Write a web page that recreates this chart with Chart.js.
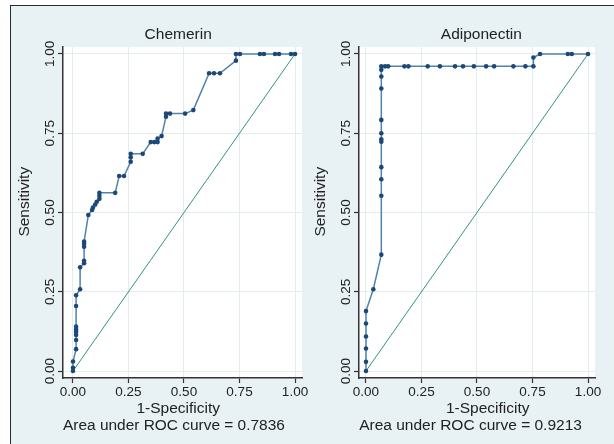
<!DOCTYPE html>
<html>
<head>
<meta charset="utf-8">
<script src="https://cdn.jsdelivr.net/npm/chart.js@4/dist/chart.umd.min.js"></script>
<style>
  body { margin: 0; background: #fff; }
  #page { position: relative; width: 614px; height: 444px; overflow: hidden; background: #fff; }
  #frame { position: absolute; left: 10px; top: 5px; right: 0; bottom: 0;
           background: #e8f1f3; border-left: 1.5px solid #2b2b2b; border-top: 1.5px solid #2b2b2b; }
  canvas { position: absolute; }
  #chemerin { left: 11px; top: 6px; }
  #adipo { left: 311px; top: 6px; }
</style>
</head>
<body>
<div id="page">
  <div id="frame"></div>
  <canvas id="chemerin" width="300" height="438"></canvas>
  <canvas id="adipo" width="303" height="438"></canvas>
</div>
<script>
// ROC points: 1-specificity (x) and sensitivity (y)
const chemFpr = [0, 0, 0, 0.014, 0.014, 0.014, 0.014, 0.014, 0.014, 0.014, 0.014, 0.032, 0.032,
    0.05, 0.05, 0.05, 0.05, 0.05, 0.069, 0.086, 0.09, 0.10, 0.107, 0.119, 0.119, 0.119, 0.19,
    0.208, 0.23, 0.26, 0.26, 0.26, 0.314, 0.35, 0.366, 0.381, 0.381, 0.399, 0.419, 0.419, 0.437,
    0.505, 0.542, 0.613, 0.635, 0.662, 0.734, 0.734, 0.752, 0.842, 0.86, 0.91, 0.928, 0.982, 1];
const chemTpr = [0, 0.01, 0.03, 0.069, 0.098, 0.114, 0.124, 0.131, 0.14, 0.205, 0.239, 0.258, 0.327,
    0.34, 0.348, 0.392, 0.401, 0.408, 0.492, 0.508, 0.516, 0.525, 0.534, 0.543, 0.553, 0.562, 0.562,
    0.615, 0.615, 0.66, 0.674, 0.685, 0.685, 0.722, 0.722, 0.722, 0.733, 0.741, 0.802, 0.812, 0.812,
    0.812, 0.823, 0.939, 0.939, 0.939, 0.979, 1, 1, 1, 1, 1, 1, 1, 1];

const adipoFpr = [0, 0, 0, 0, 0, 0, 0.033, 0.069, 0.069, 0.069, 0.069, 0.069, 0.069, 0.069, 0.069,
    0.069, 0.069, 0.069, 0.069, 0.086, 0.10, 0.173, 0.191, 0.278, 0.333, 0.401, 0.437, 0.486,
    0.541, 0.577, 0.664, 0.718, 0.754, 0.754, 0.784, 0.909, 0.927, 1];
const adipoTpr = [0, 0.029, 0.071, 0.109, 0.15, 0.189, 0.258, 0.367, 0.553, 0.605, 0.643, 0.723,
    0.731, 0.75, 0.792, 0.891, 0.929, 0.95, 0.961, 0.961, 0.961, 0.961, 0.961, 0.961, 0.961, 0.961,
    0.961, 0.961, 0.961, 0.961, 0.961, 0.961, 0.961, 0.989, 1, 1, 1, 1];

// chance line
const refX = [0, 1];
const refY = [0, 1];

const tickValues = [0, 0.25, 0.5, 0.75, 1];
const chemAuc = '0.7836';
const adipoAuc = '0.9213';

const FONT = 'Liberation Sans, Arial, Helvetica, sans-serif';

const plotBg = {
    id: 'plotBg',
    beforeDraw(chart) {
        const a = chart.chartArea;
        const ctx = chart.ctx;
        ctx.save();
        ctx.fillStyle = '#ffffff';
        ctx.fillRect(a.left, a.top, a.width, a.height);
        ctx.restore();
    }
};

function toPoints(xs, ys) {
    return xs.map((x, i) => ({ x: x, y: ys[i] }));
}

function fixTicks(scale) {
    scale.ticks = tickValues.map(v => ({ value: v }));
}

function createRocChart(canvasId, title, fpr, tpr, auc, g) {
    const canvas = document.getElementById(canvasId);

    if (!canvas) return;

    new Chart(canvas, {
        type: 'scatter',
        data: {
            datasets: [{
                data: toPoints(fpr, tpr),
                showLine: true,
                borderColor: '#5282ab',
                borderWidth: 1.5,
                pointRadius: 2.3,
                pointBackgroundColor: '#1b4877',
                pointBorderWidth: 0,
                order: 0
            }, {
                data: toPoints(refX, refY),
                showLine: true,
                borderColor: '#35908a',
                borderWidth: 1,
                pointRadius: 0,
                order: 1
            }]
        },
        options: {
            responsive: false,
            animation: false,
            layout: {
                padding: { left: 0, right: g.padRight, top: 0, bottom: 0 }
            },
            plugins: {
                legend: { display: false },
                tooltip: { enabled: false },
                title: {
                    display: true,
                    text: title,
                    fullSize: false,
                    color: '#222',
                    font: { family: FONT, size: 15.5, weight: 'normal', lineHeight: 1.2 },
                    padding: { top: 19.7, bottom: 2.7 }
                }
            },
            scales: {
                x: {
                    type: 'linear',
                    min: g.xMin,
                    max: 1.0315,
                    afterFit: s => { s.height = 66; },
                    afterBuildTicks: fixTicks,
                    grid: { color: '#e3edf0', lineWidth: 1, tickLength: 5, tickColor: '#333', tickWidth: 1.2 },
                    border: { color: '#333', width: 1.5 },
                    ticks: {
                        color: '#222',
                        font: { family: FONT, size: 13.5 },
                        padding: 1,
                        maxRotation: 0,
                        autoSkip: false,
                        callback: v => v.toFixed(2)
                    },
                    title: {
                        display: true,
                        text: [g.xTitle, 'Area under ROC curve = ' + auc + g.aucPad],
                        color: '#222',
                        font: { family: FONT, size: 15.5, lineHeight: 1.12 },
                        padding: { top: 0, bottom: 9.6 }
                    }
                },
                y: {
                    type: 'linear',
                    min: -0.022,
                    max: 1.022,
                    afterFit: s => { s.width = g.yWidth; },
                    afterBuildTicks: fixTicks,
                    grid: { color: '#e3edf0', lineWidth: 1, tickLength: 5, tickColor: '#333', tickWidth: 1.2 },
                    border: { color: '#333', width: 1.5 },
                    ticks: {
                        color: '#222',
                        font: { family: FONT, size: 13.5 },
                        minRotation: 90,
                        maxRotation: 90,
                        crossAlign: 'center',
                        padding: -5,
                        autoSkip: false,
                        callback: v => v.toFixed(2)
                    },
                    title: {
                        display: true,
                        text: '     Sensitivity',
                        color: '#222',
                        font: { family: FONT, size: 15.5, lineHeight: 1.2 },
                        padding: { top: g.yTitlePad }
                    }
                }
            }
        },
        plugins: [plotBg]
    });
}

createRocChart('chemerin', 'Chemerin  ', chemFpr, chemTpr, chemAuc, {
    padRight: 9, yWidth: 52, xMin: -0.045, yTitlePad: 4.7,
    xTitle: '1-Specificity  ', aucPad: '    '
});

createRocChart('adipo', '  Adiponectin', adipoFpr, adipoTpr, adipoAuc, {
    padRight: 19, yWidth: 48, xMin: -0.0315, yTitlePad: 0.7,
    xTitle: '     1-Specificity', aucPad: '   '
});
</script>
</body>
</html>
